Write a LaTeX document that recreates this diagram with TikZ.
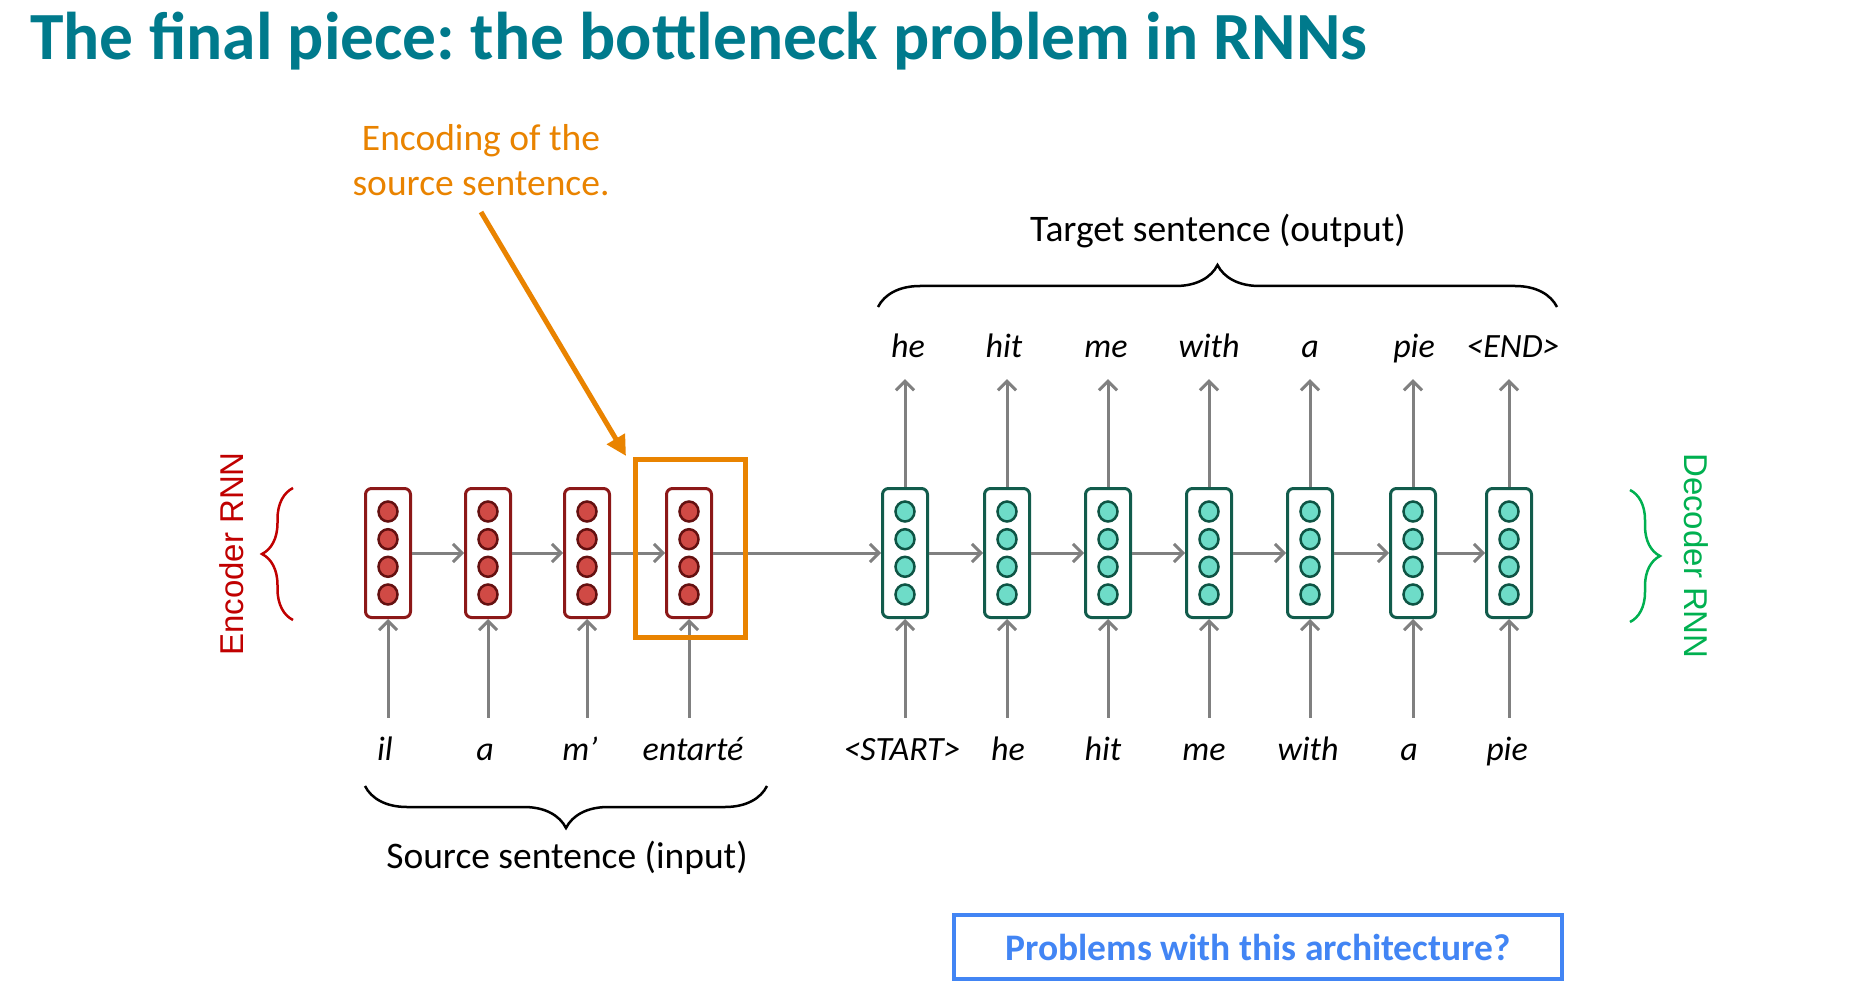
\documentclass[tikz,border=0pt]{standalone}
\usepackage{fontspec}
\setmainfont{Carlito}
\newfontfamily\arialf{Liberation Sans}
\usetikzlibrary{arrows.meta,decorations.pathreplacing,calc}
\definecolor{titleteal}{RGB}{0,122,140}
\definecolor{orangec}{RGB}{233,131,0}
\definecolor{grayc}{RGB}{128,128,128}
\definecolor{encborder}{RGB}{140,24,24}
\definecolor{encfill}{RGB}{208,74,69}
\definecolor{encdot}{RGB}{100,16,16}
\definecolor{decborder}{RGB}{18,92,76}
\definecolor{decfill}{RGB}{110,220,200}
\definecolor{decdot}{RGB}{14,84,68}
\definecolor{encred}{RGB}{192,0,0}
\definecolor{decgreen}{RGB}{0,176,80}
\definecolor{blueq}{RGB}{66,133,244}
\frenchspacing
\begin{document}
\begin{tikzpicture}[x=1pt,y=1pt,
  cellbox/.style={draw, line width=3pt, rounded corners=6pt, minimum width=45pt, minimum height=129pt, inner sep=0pt, fill=white},
  enccell/.style={cellbox, draw=encborder},
  deccell/.style={cellbox, draw=decborder},
  encdotst/.style={fill=encfill, draw=encdot, line width=2.5pt},
  decdotst/.style={fill=decfill, draw=decdot, line width=2.5pt},
  garrow/.style={draw=grayc, line width=3pt, -{Straight Barb[length=9pt,width=18pt]}},
  word/.style={font=\fontsize{34}{40}\selectfont\itshape, inner xsep=0pt, text height=26pt, text depth=9pt},
  topword/.style={word, inner ysep=12.5pt},
  botword/.style={word, inner ysep=16.5pt},
  lbl/.style={font=\fontsize{37.5}{45}\selectfont},
  bracest/.style={decorate, decoration={brace, amplitude=#1}, line width=2.5pt},
]
\path[use as bounding box] (0,0) rectangle (1868,-1008);

% title
\node[anchor=base west, font=\fontsize{67.5}{78}\selectfont\bfseries, text=titleteal, inner sep=0pt] (title) at (30,-60) {The final piece: the bottleneck problem in RNNs};

% encoder cells
\foreach \i/\x in {1/388,2/488,3/587,4/689} {
  \node[enccell] (e\i) at (\x,-553) {};
  \foreach \k in {-41.5,-13.8,13.8,41.5}
    \draw[encdotst] ($(e\i)+(0,\k)$) ellipse [x radius=9.5pt, y radius=10pt];
}
% decoder cells
\foreach \i/\x in {1/905,2/1007,3/1108,4/1209,5/1310,6/1413,7/1509} {
  \node[deccell] (d\i) at (\x,-553) {};
  \foreach \k in {-41.5,-13.8,13.8,41.5}
    \draw[decdotst] ($(d\i)+(0,\k)$) ellipse [x radius=9.5pt, y radius=10pt];
}

% horizontal arrows
\draw[garrow] (e1.east) -- (e2.west);
\draw[garrow] (e2.east) -- (e3.west);
\draw[garrow] (e3.east) -- (e4.west);
\draw[garrow] (e4.east) -- (d1.west);
\foreach \i/\j in {1/2,2/3,3/4,4/5,5/6,6/7}
  \draw[garrow] (d\i.east) -- (d\j.west);

% top words
\foreach \i/\x/\w in {1/908/he,2/1004/hit,3/1106/me,4/1209/with,5/1310/a,6/1414/pie,7/1513/<END>} {
  \node[topword] (t\i) at (\x,-349) {\w};
  \draw[garrow] (d\i.north) -- (d\i.north |- t\i.south);
}
% bottom words encoder
\foreach \i/\x/\w in {1/385/il,2/485/a,3/580/m’,4/693/entarté} {
  \node[botword] (s\i) at (\x,-752) {\w};
  \draw[garrow] (e\i.south |- s\i.north) -- (e\i.south);
}
% bottom words decoder
\foreach \i/\x/\w in {1/902/<START>,2/1008/he,3/1103/hit,4/1204/me,5/1308/with,6/1409/a,7/1507/pie} {
  \node[botword] (b\i) at (\x,-752) {\w};
  \draw[garrow] (d\i.south |- b\i.north) -- (d\i.south);
}

% braces and labels
\draw[bracest=42pt] (878,-307) -- (1557,-307);
\node[lbl] (tgt) at (1218,-231) {Target sentence (output)};
\draw[bracest=42pt] (767,-786) -- (365,-786);
\node[lbl] (src) at (567,-858) {Source sentence (input)};
\draw[bracest=31pt, draw=encred] (293,-620) -- (293,-488);
\node[rotate=90, font=\arialf\fontsize{33}{40}\selectfont, text=encred] (enclbl) at (232,-554) {Encoder RNN};
\draw[bracest=30pt, draw=decgreen] (1630,-490) -- (1630,-622);
\node[rotate=-90, font=\arialf\fontsize{33}{40}\selectfont, text=decgreen] (declbl) at (1696,-556) {Decoder RNN};

% encoding highlight
\node[draw=orangec, line width=5pt, minimum width=110pt, minimum height=178pt, inner sep=0pt] (encbox) at (690,-548) {};
\node[lbl, text=orangec, align=center] (encl) at (481,-160) {Encoding of the\\source sentence.};
\coordinate (arrstart) at (481,-212);
\coordinate (arrend) at (626,-456);
\draw[orangec, line width=5pt, -{Triangle[length=20pt,width=20pt]}] (arrstart) -- (arrend);

% question box
\node[draw=blueq, line width=4pt, minimum width=608pt, minimum height=64pt, font=\fontsize{37.5}{42}\selectfont\bfseries, text=blueq] (prob) at (1258,-947) {Problems with this architecture?};
\end{tikzpicture}
\end{document}
